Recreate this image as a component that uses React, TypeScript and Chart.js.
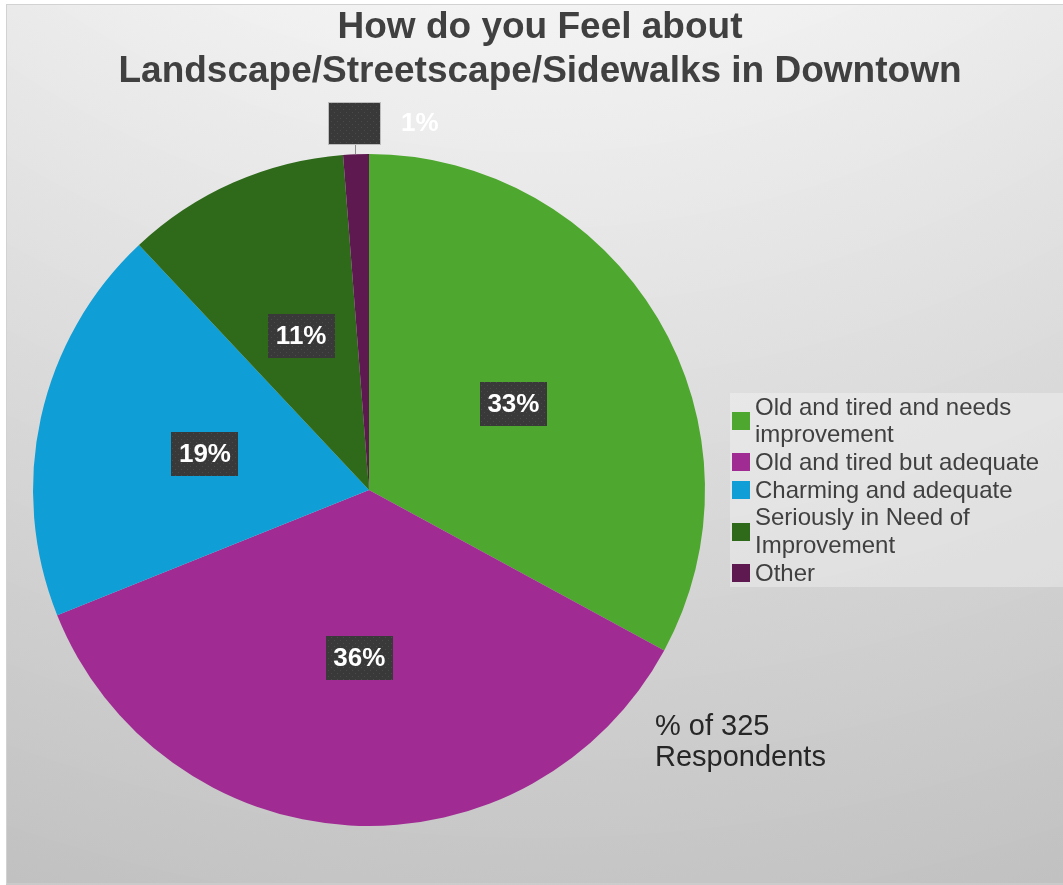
import React, { useEffect, useRef } from "react";
import { Chart, registerables } from "chart.js";

Chart.register(...registerables);

const TITLE_LINES = ["How do you Feel about", "Landscape/Streetscape/Sidewalks in Downtown"];
const CATEGORIES = [
  "Old and tired and needs improvement",
  "Old and tired but adequate",
  "Charming and adequate",
  "Seriously in Need of Improvement",
  "Other",
];
const RESPONDENTS = [107, 117, 62, 35, 4];
const COLORS = ["#4EA72E", "#A02B93", "#0F9ED5", "#2E6A1A", "#5F1951"];
const NOTE_LINES = ["% of 325", "Respondents"];

const FONT = '"Liberation Sans", Arial, Helvetica, sans-serif';

function gray(v: number) {
  const c = Math.round(v);
  return `rgb(${c},${c},${c})`;
}

const bgPlugin = {
  id: "bgPanel",
  beforeDraw(chart: any) {
    const ctx = chart.ctx as CanvasRenderingContext2D;
    const W = chart.width;
    const H = chart.height;
    ctx.save();
    ctx.fillStyle = "#ffffff";
    ctx.fillRect(0, 0, W, H);
    const cx = 535;
    const cy = -700;
    const R = 1720;
    const g = ctx.createRadialGradient(cx, cy, 0, cx, cy, R);
    const r0 = 700;
    const r1 = 1690;
    const c0 = 243;
    const c1 = 191;
    const nb = 13;
    g.addColorStop(0, gray(c0 + 2));
    g.addColorStop(r0 / R, gray(c0 + 1));
    for (let i = 0; i < nb; i++) {
      const a = (r0 + ((r1 - r0) * i) / nb) / R;
      const b = (r0 + ((r1 - r0) * (i + 1)) / nb) / R;
      const ca = c0 + ((c1 - c0) * i) / nb;
      const cb = c0 + ((c1 - c0) * (i + 0.7)) / nb;
      g.addColorStop(Math.min(a + 0.0001, 1), gray(ca));
      g.addColorStop(Math.min(b, 1), gray(cb));
    }
    ctx.fillStyle = g;
    ctx.fillRect(6, 4, W - 6, H - 4);
    ctx.strokeStyle = "#d2d2d2";
    ctx.lineWidth = 1;
    ctx.strokeRect(6.5, 4.5, W - 6, H - 5.5);
    // legend backdrop
    ctx.fillStyle = "rgba(255,255,255,0.3)";
    ctx.fillRect(730, 393, W - 730, 194);
    ctx.restore();
  },
};

let patternCanvas: HTMLCanvasElement | null = null;
function getPattern(ctx: CanvasRenderingContext2D) {
  if (!patternCanvas) {
    patternCanvas = document.createElement("canvas");
    patternCanvas.width = 6;
    patternCanvas.height = 6;
    const p = patternCanvas.getContext("2d")!;
    p.fillStyle = "#393939";
    p.fillRect(0, 0, 6, 6);
    p.fillStyle = "#4a4a4a";
    p.fillRect(1, 1, 1, 1);
    p.fillRect(4, 4, 1, 1);
  }
  return ctx.createPattern(patternCanvas, "repeat") || "#393939";
}

const labelPlugin = {
  id: "pctLabels",
  afterDatasetsDraw(chart: any) {
    const ctx = chart.ctx as CanvasRenderingContext2D;
    const meta = chart.getDatasetMeta(0);
    const data = chart.data.datasets[0].data as number[];
    const total = data.reduce((a, b) => a + b, 0);
    ctx.save();
    ctx.font = `bold 26px ${FONT}`;
    ctx.textAlign = "center";
    ctx.textBaseline = "middle";
    meta.data.forEach((arc: any, i: number) => {
      const p = arc.getProps(["x", "y", "startAngle", "endAngle", "outerRadius"], true);
      const mid = (p.startAngle + p.endAngle) / 2;
      const frac = data[i] / total;
      const txt = Math.round(frac * 100) + "%";
      if (frac >= 0.03) {
        const lx = p.x + Math.cos(mid) * p.outerRadius * 0.5;
        const ly = p.y + Math.sin(mid) * p.outerRadius * 0.5;
        const bw = 67;
        const bh = 44;
        ctx.fillStyle = getPattern(ctx);
        ctx.fillRect(Math.round(lx - bw / 2), Math.round(ly - bh / 2), bw, bh);
        ctx.fillStyle = "#ffffff";
        ctx.fillText(txt, lx, ly + 1);
      } else {
        const d = p.outerRadius + 31;
        const bx = p.x + Math.cos(mid) * d;
        const by = p.y + Math.sin(mid) * d;
        const bw = 53;
        const bh = 43;
        const ey = p.y + Math.sin(mid) * p.outerRadius;
        ctx.strokeStyle = "#8c8c8c";
        ctx.lineWidth = 1;
        ctx.beginPath();
        ctx.moveTo(Math.round(bx) + 0.5, by + bh / 2);
        ctx.lineTo(Math.round(bx) + 0.5, ey);
        ctx.stroke();
        ctx.fillStyle = getPattern(ctx);
        ctx.fillRect(Math.round(bx - bw / 2), Math.round(by - bh / 2), bw, bh);
        ctx.strokeStyle = "#bdbdbd";
        ctx.strokeRect(Math.round(bx - bw / 2) + 0.5, Math.round(by - bh / 2) + 0.5, bw - 1, bh - 1);
        ctx.fillStyle = "#ffffff";
        ctx.fillText(txt, bx + 65, by + 1);
      }
    });
    ctx.restore();
  },
};

function wrap(ctx: CanvasRenderingContext2D, text: string, maxW: number) {
  const words = text.split(" ");
  const lines: string[] = [];
  let cur = "";
  for (const w of words) {
    const t = cur ? cur + " " + w : w;
    if (ctx.measureText(t).width > maxW && cur) {
      lines.push(cur);
      cur = w;
    } else {
      cur = t;
    }
  }
  if (cur) lines.push(cur);
  return lines;
}

const overlayPlugin = {
  id: "overlayText",
  afterDraw(chart: any) {
    const ctx = chart.ctx as CanvasRenderingContext2D;
    ctx.save();
    // title
    ctx.fillStyle = "#404040";
    ctx.font = `bold 37px ${FONT}`;
    ctx.textAlign = "center";
    ctx.textBaseline = "alphabetic";
    TITLE_LINES.forEach((l, i) => ctx.fillText(l, 540, 38 + i * 44));

    // legend
    const labels = chart.data.labels as string[];
    const colors = chart.data.datasets[0].backgroundColor as string[];
    ctx.font = `24px ${FONT}`;
    ctx.textAlign = "left";
    ctx.textBaseline = "middle";
    const lh = 27.7;
    let y = 407;
    labels.forEach((lab, i) => {
      const lines = wrap(ctx, lab, 300);
      const cyItem = y + ((lines.length - 1) * lh) / 2;
      ctx.fillStyle = colors[i];
      ctx.fillRect(732, Math.round(cyItem - 9), 18, 18);
      ctx.fillStyle = "#404040";
      lines.forEach((ln, j) => ctx.fillText(ln, 755, y + j * lh + 1));
      y += lines.length * lh;
    });

    // note
    ctx.fillStyle = "#262626";
    ctx.font = `29px ${FONT}`;
    ctx.textBaseline = "alphabetic";
    NOTE_LINES.forEach((l, i) => ctx.fillText(l, 655, 735 + i * 31));
    ctx.restore();
  },
};

export default function App() {
  const ref = useRef<HTMLCanvasElement>(null);
  useEffect(() => {
    const chart = new Chart(ref.current!, {
      type: "pie",
      data: {
        labels: CATEGORIES,
        datasets: [
          {
            data: RESPONDENTS,
            backgroundColor: COLORS,
            borderWidth: 0,
          },
        ],
      },
      options: {
        responsive: false,
        animation: false,
        events: [],
        layout: { padding: { left: 33, top: 154, right: 358, bottom: 59 } },
        plugins: {
          legend: { display: false },
          tooltip: { enabled: false },
          title: { display: false },
        },
      },
      plugins: [bgPlugin, labelPlugin, overlayPlugin],
    } as any);
    return () => chart.destroy();
  }, []);
  return (
    <div style={{ position: "fixed", left: 0, top: 0, width: 1063, height: 885, background: "#fff" }}>
      <canvas ref={ref} width={1063} height={885} style={{ display: "block", width: 1063, height: 885 }} />
    </div>
  );
}
